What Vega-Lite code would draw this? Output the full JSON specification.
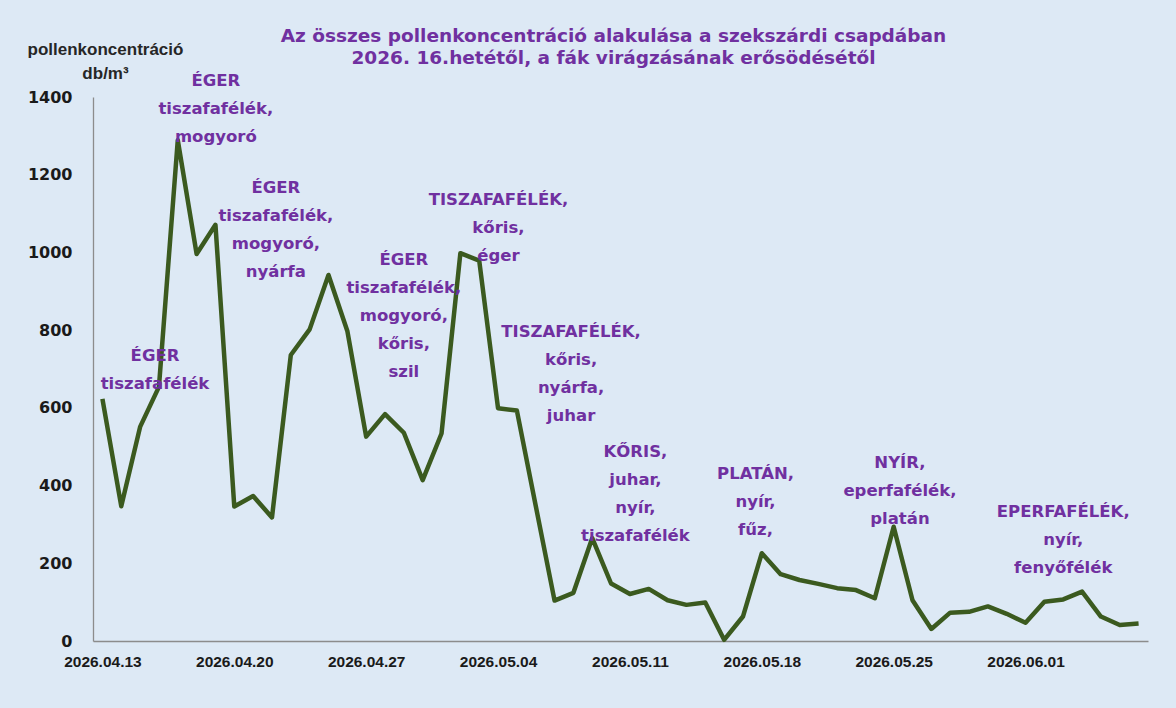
{
  "$schema": "https://vega.github.io/schema/vega-lite/v6.json",
  "width": 1055,
  "height": 544,
  "autosize": {"type": "none"},
  "padding": {"left": 93, "top": 97, "right": 28, "bottom": 67},
  "background": "#dde9f5",
  "config": {"view": {"stroke": null}},
  "title": {
    "text": ["Az összes pollenkoncentráció alakulása a szekszárdi csapdában", "2026. 16.hetétől, a fák virágzásának erősödésétől"],
    "anchor": "middle",
    "frame": "group",
    "font": "DejaVu Sans",
    "fontSize": 18.5,
    "fontWeight": "bold",
    "color": "#7030a0",
    "lineHeight": 22,
    "offset": 0,
    "dx": -7,
    "dy": 27
  },
  "encoding": {
    "x": {
      "field": "date",
      "type": "temporal",
      "scale": {"domain": [{"year": 2026, "month": 4, "date": 12, "hours": 12}, {"year": 2026, "month": 6, "date": 7, "hours": 12}]},
      "axis": {
        "values": [
          {"year": 2026, "month": 4, "date": 13},
          {"year": 2026, "month": 4, "date": 20},
          {"year": 2026, "month": 4, "date": 27},
          {"year": 2026, "month": 5, "date": 4},
          {"year": 2026, "month": 5, "date": 11},
          {"year": 2026, "month": 5, "date": 18},
          {"year": 2026, "month": 5, "date": 25},
          {"year": 2026, "month": 6, "date": 1}
        ],
        "format": "%Y.%m.%d",
        "labelFont": "Liberation Sans",
        "labelFontSize": 15.5,
        "labelFontWeight": "bold",
        "labelColor": "#1a1a1a",
        "ticks": false,
        "tickSize": 0,
        "labelPadding": 13,
        "domainColor": "#8c8c8c",
        "domainWidth": 1.3,
        "grid": false,
        "title": null,
        "labelOverlap": false,
        "labelFlush": false
      }
    },
    "y": {
      "field": "value",
      "type": "quantitative",
      "scale": {"domain": [0, 1400], "nice": false},
      "axis": {
        "values": [0, 200, 400, 600, 800, 1000, 1200, 1400],
        "format": "d",
        "labelFont": "DejaVu Sans",
        "labelFontSize": 16,
        "labelFontWeight": "bold",
        "labelColor": "#1a1a1a",
        "ticks": false,
        "tickSize": 0,
        "labelPadding": 21,
        "domainColor": "#8c8c8c",
        "domainWidth": 1.3,
        "grid": false,
        "title": ["pollenkoncentráció", "db/m³"],
        "titleAngle": 0,
        "titleAlign": "center",
        "titleBaseline": "top",
        "titleX": 12,
        "titleY": -56,
        "titleFont": "Liberation Sans",
        "titleFontSize": 17,
        "titleFontWeight": "bold",
        "titleColor": "#262626",
        "titleLineHeight": 24
      }
    }
  },
  "layer": [
    {
      "data": {"values": [
        {"date": "2026/04/13", "value": 623},
        {"date": "2026/04/14", "value": 347},
        {"date": "2026/04/15", "value": 551},
        {"date": "2026/04/16", "value": 654},
        {"date": "2026/04/17", "value": 1289},
        {"date": "2026/04/18", "value": 996},
        {"date": "2026/04/19", "value": 1071},
        {"date": "2026/04/20", "value": 346},
        {"date": "2026/04/21", "value": 373},
        {"date": "2026/04/22", "value": 318},
        {"date": "2026/04/23", "value": 736},
        {"date": "2026/04/24", "value": 802},
        {"date": "2026/04/25", "value": 942},
        {"date": "2026/04/26", "value": 798},
        {"date": "2026/04/27", "value": 526},
        {"date": "2026/04/28", "value": 584},
        {"date": "2026/04/29", "value": 536},
        {"date": "2026/04/30", "value": 414},
        {"date": "2026/05/01", "value": 534},
        {"date": "2026/05/02", "value": 998},
        {"date": "2026/05/03", "value": 979},
        {"date": "2026/05/04", "value": 599},
        {"date": "2026/05/05", "value": 593},
        {"date": "2026/05/06", "value": 348},
        {"date": "2026/05/07", "value": 104},
        {"date": "2026/05/08", "value": 124},
        {"date": "2026/05/09", "value": 265},
        {"date": "2026/05/10", "value": 148},
        {"date": "2026/05/11", "value": 121},
        {"date": "2026/05/12", "value": 134},
        {"date": "2026/05/13", "value": 105},
        {"date": "2026/05/14", "value": 93},
        {"date": "2026/05/15", "value": 99},
        {"date": "2026/05/16", "value": 3},
        {"date": "2026/05/17", "value": 63},
        {"date": "2026/05/18", "value": 226},
        {"date": "2026/05/19", "value": 172},
        {"date": "2026/05/20", "value": 157},
        {"date": "2026/05/21", "value": 147},
        {"date": "2026/05/22", "value": 136},
        {"date": "2026/05/23", "value": 131},
        {"date": "2026/05/24", "value": 110},
        {"date": "2026/05/25", "value": 294},
        {"date": "2026/05/26", "value": 105},
        {"date": "2026/05/27", "value": 31},
        {"date": "2026/05/28", "value": 73},
        {"date": "2026/05/29", "value": 75},
        {"date": "2026/05/30", "value": 89},
        {"date": "2026/05/31", "value": 70},
        {"date": "2026/06/01", "value": 47},
        {"date": "2026/06/02", "value": 101},
        {"date": "2026/06/03", "value": 107},
        {"date": "2026/06/04", "value": 127},
        {"date": "2026/06/05", "value": 63},
        {"date": "2026/06/06", "value": 41},
        {"date": "2026/06/07", "value": 45}
      ]},
      "mark": {"type": "line", "color": "#3b5a1f", "strokeWidth": 4.5, "strokeJoin": "round"},
      "encoding": {}
    },
    {
      "data": {"values": [
        {"date": "2026/04/15 19:00", "value": 754, "label": "ÉGER\ntiszafafélék"},
        {"date": "2026/04/19 00:30", "value": 1462, "label": "ÉGER\ntiszafafélék,\nmogyoró"},
        {"date": "2026/04/22 05:00", "value": 1186, "label": "ÉGER\ntiszafafélék,\nmogyoró,\nnyárfa"},
        {"date": "2026/04/29 00:00", "value": 1001, "label": "ÉGER\ntiszafafélék,\nmogyoró,\nkőris,\nszil"},
        {"date": "2026/05/04 00:30", "value": 1155, "label": "TISZAFAFÉLÉK,\nkőris,\néger"},
        {"date": "2026/05/07 21:00", "value": 816, "label": "TISZAFAFÉLÉK,\nkőris,\nnyárfa,\njuhar"},
        {"date": "2026/05/11 07:00", "value": 507, "label": "KŐRIS,\njuhar,\nnyír,\ntiszafafélék"},
        {"date": "2026/05/17 16:00", "value": 450, "label": "PLATÁN,\nnyír,\nfűz,"},
        {"date": "2026/05/25 08:00", "value": 479, "label": "NYÍR,\neperfafélék,\nplatán"},
        {"date": "2026/06/03 00:00", "value": 353, "label": "EPERFAFÉLÉK,\nnyír,\nfenyőfélék"}
      ]},
      "mark": {"type": "text", "font": "DejaVu Sans", "fontSize": 16.5, "fontWeight": "bold", "color": "#7030a0", "align": "center", "baseline": "top", "lineBreak": "\n", "lineHeight": 28},
      "encoding": {"text": {"field": "label", "type": "nominal"}}
    }
  ]
}
